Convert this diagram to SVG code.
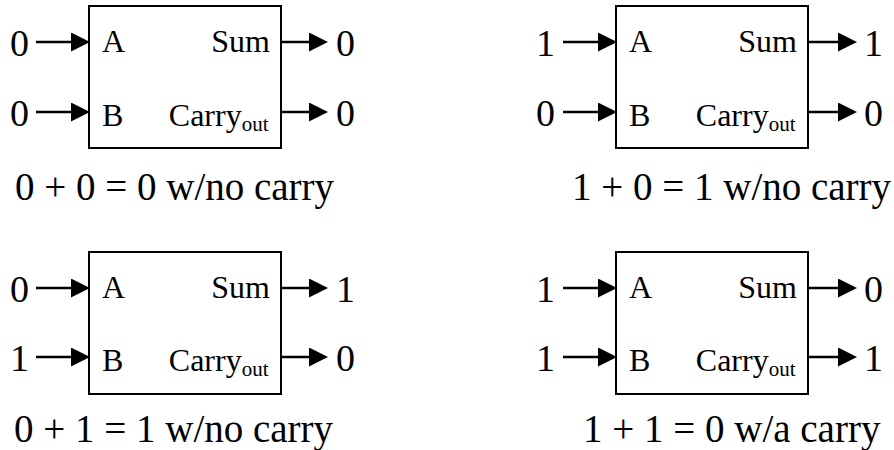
<svg xmlns="http://www.w3.org/2000/svg" width="894" height="450" viewBox="0 0 894 450">
<style>
text{font-family:"Liberation Serif","Times New Roman",serif;fill:#000}
.box{fill:#fff;stroke:#000;stroke-width:2}
.lbl{font-size:32px}
.sub{font-size:21px}
.val{font-size:38px}
.cap{font-size:39px}
.wire{stroke:#000;stroke-width:2.5;fill:none}
</style>
<defs>
<marker id="ah" markerUnits="userSpaceOnUse" markerWidth="20" markerHeight="20" refX="4" refY="9.5" orient="auto">
<path d="M0,0 L19,9.5 L0,19 Z" fill="#000"/>
</marker>
</defs>
<rect width="894" height="450" fill="#fff"/>

<g id="adder-00">
<rect class="box" x="89" y="6" width="192" height="142"/>
<text class="lbl" x="102" y="52">A</text>
<text class="lbl" x="102" y="125.5">B</text>
<text class="lbl" x="270" y="52" text-anchor="end">Sum</text>
<text class="lbl" x="268.5" y="125.5" text-anchor="end">Carry<tspan class="sub" dy="5">out</tspan></text>
</g>
<g id="adder-10">
<rect class="box" x="616" y="6" width="192" height="142"/>
<text class="lbl" x="629" y="52">A</text>
<text class="lbl" x="629" y="125.5">B</text>
<text class="lbl" x="797" y="52" text-anchor="end">Sum</text>
<text class="lbl" x="795.5" y="125.5" text-anchor="end">Carry<tspan class="sub" dy="5">out</tspan></text>
</g>
<g id="adder-01">
<rect class="box" x="89" y="252" width="192" height="142"/>
<text class="lbl" x="102" y="298">A</text>
<text class="lbl" x="102" y="371">B</text>
<text class="lbl" x="270" y="298" text-anchor="end">Sum</text>
<text class="lbl" x="268.5" y="371" text-anchor="end">Carry<tspan class="sub" dy="5">out</tspan></text>
</g>
<g id="adder-11">
<rect class="box" x="616" y="252" width="192" height="142"/>
<text class="lbl" x="629" y="298">A</text>
<text class="lbl" x="629" y="371">B</text>
<text class="lbl" x="797" y="298" text-anchor="end">Sum</text>
<text class="lbl" x="795.5" y="371" text-anchor="end">Carry<tspan class="sub" dy="5">out</tspan></text>
</g>

<g id="connectors">
<line class="wire" x1="36" y1="42" x2="75" y2="42" marker-end="url(#ah)"/>
<line class="wire" x1="36" y1="112" x2="75" y2="112" marker-end="url(#ah)"/>
<line class="wire" x1="281" y1="42" x2="313" y2="42" marker-end="url(#ah)"/>
<line class="wire" x1="281" y1="112" x2="313" y2="112" marker-end="url(#ah)"/>

<line class="wire" x1="563" y1="42" x2="602" y2="42" marker-end="url(#ah)"/>
<line class="wire" x1="563" y1="112" x2="602" y2="112" marker-end="url(#ah)"/>
<line class="wire" x1="808" y1="42" x2="842" y2="42" marker-end="url(#ah)"/>
<line class="wire" x1="808" y1="112" x2="842" y2="112" marker-end="url(#ah)"/>

<line class="wire" x1="36" y1="288" x2="75" y2="288" marker-end="url(#ah)"/>
<line class="wire" x1="36" y1="357" x2="75" y2="357" marker-end="url(#ah)"/>
<line class="wire" x1="281" y1="288" x2="313" y2="288" marker-end="url(#ah)"/>
<line class="wire" x1="281" y1="357" x2="313" y2="357" marker-end="url(#ah)"/>

<line class="wire" x1="563" y1="288" x2="602" y2="288" marker-end="url(#ah)"/>
<line class="wire" x1="563" y1="357" x2="602" y2="357" marker-end="url(#ah)"/>
<line class="wire" x1="808" y1="288" x2="842" y2="288" marker-end="url(#ah)"/>
<line class="wire" x1="808" y1="357" x2="842" y2="357" marker-end="url(#ah)"/>
</g>

<g id="values">
<text class="val" x="10" y="55.5">0</text>
<text class="val" x="10" y="125.5">0</text>
<text class="val" x="336" y="55.5">0</text>
<text class="val" x="336" y="125.5">0</text>

<text class="val" x="536" y="55.5">1</text>
<text class="val" x="536" y="125.5">0</text>
<text class="val" x="864" y="55.5">1</text>
<text class="val" x="864" y="125.5">0</text>

<text class="val" x="10" y="301.5">0</text>
<text class="val" x="10" y="370.5">1</text>
<text class="val" x="336" y="301.5">1</text>
<text class="val" x="336" y="370.5">0</text>

<text class="val" x="536" y="301.5">1</text>
<text class="val" x="536" y="370.5">1</text>
<text class="val" x="864" y="301.5">0</text>
<text class="val" x="864" y="370.5">1</text>
</g>

<g id="captions">
<text class="cap" x="15" y="199.5">0 + 0 = 0 w/no carry</text>
<text class="cap" x="572" y="199.5">1 + 0 = 1 w/no carry</text>
<text class="cap" x="14" y="442">0 + 1 = 1 w/no carry</text>
<text class="cap" x="583" y="442">1 + 1 = 0 w/a carry</text>
</g>
</svg>
